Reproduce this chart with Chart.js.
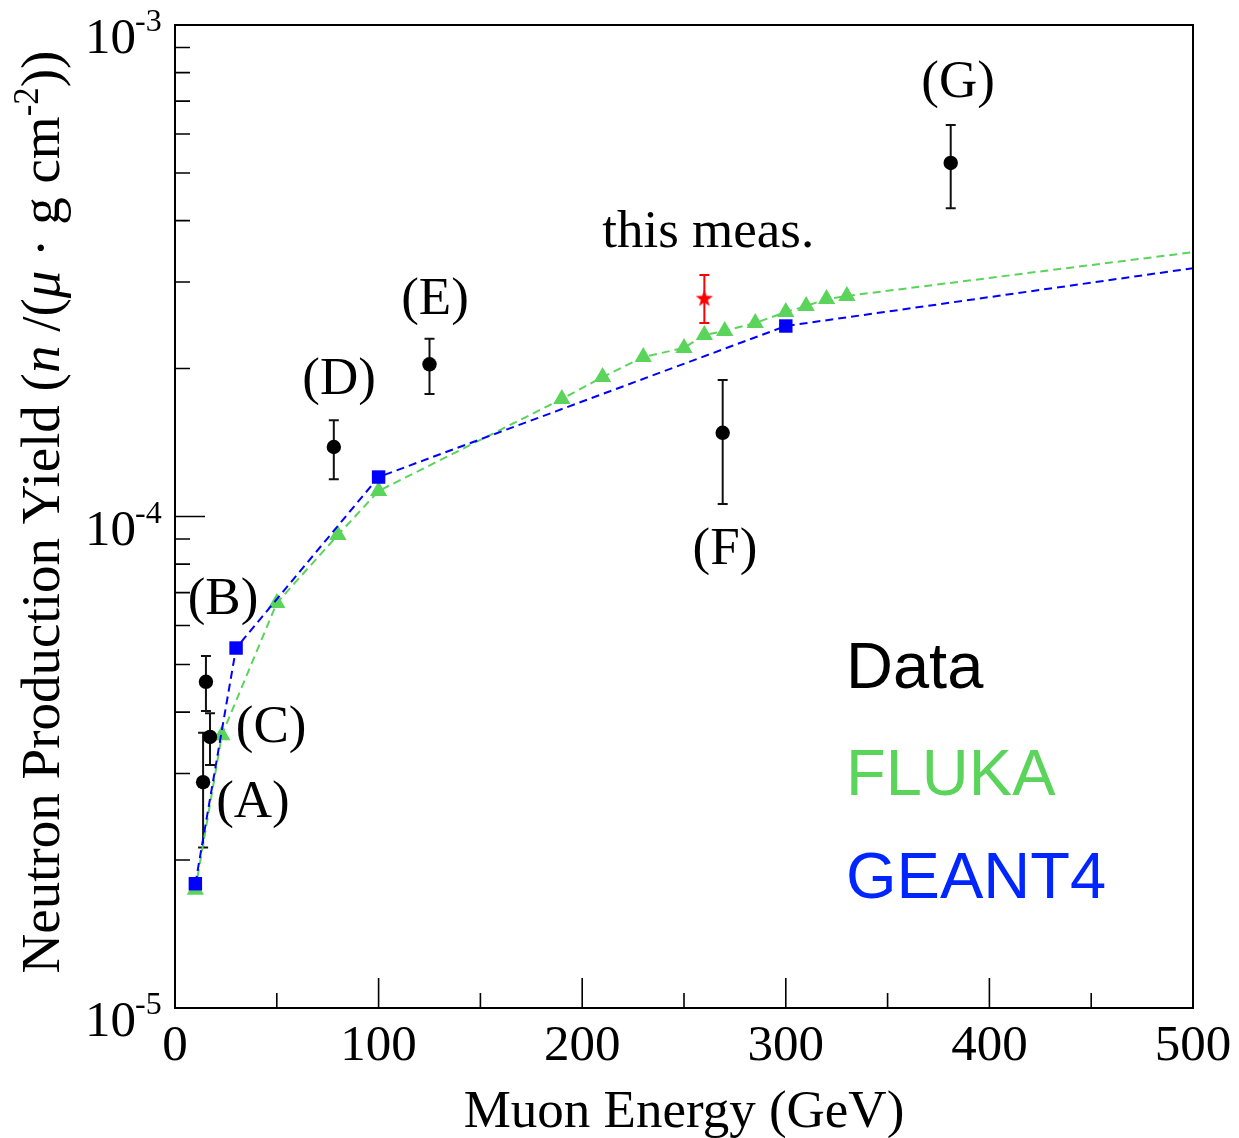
<!DOCTYPE html>
<html>
<head>
<meta charset="utf-8">
<script src="https://cdn.jsdelivr.net/npm/chart.js@4"></script>
<style>
  html, body { margin: 0; padding: 0; background: #fff; }
</style>
</head>
<body>
<canvas id="yieldChart" width="1239" height="1138"></canvas>
<script>
// measured data points (A)..(G)
const dataNames = ["(A)", "(B)", "(C)", "(D)", "(E)", "(F)", "(G)"];
const dataEnergy = [13.8, 15.2, 17.2, 78, 125, 269, 381];
const dataYield = [2.88e-5, 4.61e-5, 3.56e-5, 1.385e-4, 2.04e-4, 1.48e-4, 5.24e-4];
const dataErrLow = [2.12e-5, 4.02e-5, 3.12e-5, 1.19e-4, 1.775e-4, 1.06e-4, 4.24e-4];
const dataErrHigh = [3.63e-5, 5.20e-5, 3.98e-5, 1.57e-4, 2.30e-4, 1.895e-4, 6.26e-4];

// this measurement
const measEnergy = [260];
const measYield = [2.78e-4];
const measErrLow = [2.476e-4];
const measErrHigh = [3.10e-4];

// simulations
const flukaEnergy = [10, 23, 50, 80, 100, 190, 210, 230, 250, 260, 270, 285, 300, 310, 320, 330, 500];
const flukaYield = [1.74e-5, 3.59e-5, 6.67e-5, 9.17e-5, 1.127e-4, 1.734e-4, 1.922e-4, 2.111e-4, 2.203e-4,
                    2.34e-4, 2.385e-4, 2.476e-4, 2.606e-4, 2.68e-4, 2.77e-4, 2.81e-4, 3.45e-4];
const geantEnergy = [10, 30, 100, 300, 500];
const geantYield = [1.79e-5, 5.40e-5, 1.203e-4, 2.441e-4, 3.20e-4];

// axis ticks
const xMajorTicks = [0, 100, 200, 300, 400, 500];
const xMinorTicks = [50, 150, 250, 350, 450];
const yDecades = [-5, -4, -3];

// text labels, anchored in data units
const annotations = [
  { text: "(A)", x: 38.3, y: 2.61e-5 },
  { text: "(B)", x: 23.6, y: 6.76e-5 },
  { text: "(C)", x: 47.2, y: 3.71e-5 },
  { text: "(D)", x: 80.6, y: 1.895e-4 },
  { text: "(E)", x: 127.7, y: 2.757e-4 },
  { text: "(F)", x: 270.1, y: 8.55e-5 },
  { text: "(G)", x: 384.6, y: 7.62e-4 },
  { text: "this meas.", x: 261.9, y: 3.77e-4 }
];

const GREEN = "#5ad45a";
const BLUE = "#0000ff";
const SERIF = "'Liberation Serif', 'Times New Roman', serif";
const SANS = "'Liberation Sans', Arial, sans-serif";

function toPoints(xs, ys) {
  return xs.map((x, i) => ({ x: x, y: ys[i] }));
}

// red filled star marker
function makeStar() {
  const c = document.createElement("canvas");
  c.width = 20; c.height = 20;
  const g = c.getContext("2d");
  g.fillStyle = "#ff0000";
  g.beginPath();
  for (let i = 0; i < 10; i++) {
    const r = i % 2 === 0 ? 9 : 3.7;
    const a = -Math.PI / 2 + i * Math.PI / 5;
    const px = 10 + r * Math.cos(a), py = 10.5 + r * Math.sin(a);
    if (i === 0) g.moveTo(px, py); else g.lineTo(px, py);
  }
  g.closePath();
  g.fill();
  return c;
}

function drawErrors(chart, xs, lows, highs, color) {
  const ctx = chart.ctx;
  const xs_ = chart.scales.x, ys_ = chart.scales.y;
  ctx.save();
  ctx.strokeStyle = color;
  ctx.lineWidth = 2;
  xs.forEach((e, i) => {
    const px = xs_.getPixelForValue(e);
    const top = ys_.getPixelForValue(highs[i]);
    const bot = ys_.getPixelForValue(lows[i]);
    ctx.beginPath();
    ctx.moveTo(px, top); ctx.lineTo(px, bot);
    ctx.moveTo(px - 5, top); ctx.lineTo(px + 5, top);
    ctx.moveTo(px - 5, bot); ctx.lineTo(px + 5, bot);
    ctx.stroke();
  });
  ctx.restore();
}

const errorBars = {
  id: "errorBars",
  beforeDatasetsDraw(chart) {
    drawErrors(chart, dataEnergy, dataErrLow, dataErrHigh, "#111");
    drawErrors(chart, measEnergy, measErrLow, measErrHigh, "#ff0000");
  }
};

// draw a run of text pieces with different styles starting at x
function drawRuns(ctx, runs, x, y) {
  let cx = x;
  runs.forEach(r => {
    ctx.font = r.font;
    ctx.fillText(r.t, cx, y + (r.dy || 0));
    cx += ctx.measureText(r.t).width;
  });
}
function runsWidth(ctx, runs) {
  let w = 0;
  runs.forEach(r => { ctx.font = r.font; w += ctx.measureText(r.t).width; });
  return w;
}

const frame = {
  id: "frame",
  afterDraw(chart) {
    const ctx = chart.ctx;
    const a = chart.chartArea;
    const xs = chart.scales.x, ys = chart.scales.y;
    ctx.save();
    ctx.strokeStyle = "#000";
    ctx.lineWidth = 2;
    ctx.strokeRect(a.left, a.top, a.right - a.left, a.bottom - a.top);

    // inward ticks
    ctx.beginPath();
    xMajorTicks.forEach(v => {
      const px = xs.getPixelForValue(v);
      ctx.moveTo(px, a.bottom); ctx.lineTo(px, a.bottom - 30);
    });
    xMinorTicks.forEach(v => {
      const px = xs.getPixelForValue(v);
      ctx.moveTo(px, a.bottom); ctx.lineTo(px, a.bottom - 15);
    });
    yDecades.forEach(d => {
      const py = ys.getPixelForValue(Math.pow(10, d));
      ctx.moveTo(a.left, py); ctx.lineTo(a.left + 30, py);
      if (d < -3) {
        for (let m = 2; m <= 9; m++) {
          const q = ys.getPixelForValue(m * Math.pow(10, d));
          ctx.moveTo(a.left, q); ctx.lineTo(a.left + 15, q);
        }
      }
    });
    ctx.lineWidth = 1.6;
    ctx.stroke();

    ctx.fillStyle = "#000";
    // x tick labels
    ctx.font = "51px " + SERIF;
    ctx.textAlign = "center";
    ctx.textBaseline = "alphabetic";
    xMajorTicks.forEach(v => {
      ctx.fillText(String(v), xs.getPixelForValue(v), 1060);
    });
    // y tick labels 10^d
    yDecades.forEach(d => {
      const py = ys.getPixelForValue(Math.pow(10, d));
      ctx.textAlign = "right";
      ctx.font = "51px " + SERIF;
      ctx.fillText("10", 136, py + 28);
      ctx.textAlign = "left";
      ctx.font = "32px " + SERIF;
      ctx.fillText(String(d), 135, py + 6);
    });

    // x title
    ctx.textAlign = "center";
    ctx.font = "53px " + SERIF;
    ctx.fillText("Muon Energy (GeV)", 684, 1127);

    // y title, rotated
    const reg = "55px " + SERIF;
    const ita = "italic 55px " + SERIF;
    const sup = "35px " + SERIF;
    const runs = [
      { t: "Neutron Production Yield (", font: reg },
      { t: "n", font: ita },
      { t: " /(", font: reg },
      { t: "\u03bc", font: ita },
      { t: " \u00b7 g cm", font: reg },
      { t: "-2", font: sup, dy: -21 },
      { t: "))", font: reg }
    ];
    ctx.save();
    ctx.translate(59, 512);
    ctx.rotate(-Math.PI / 2);
    ctx.textAlign = "left";
    drawRuns(ctx, runs, -runsWidth(ctx, runs) / 2, 0);
    ctx.restore();

    // point annotations
    ctx.font = "53px " + SERIF;
    ctx.textAlign = "center";
    ctx.textBaseline = "middle";
    annotations.forEach(n => {
      ctx.fillText(n.text, xs.getPixelForValue(n.x), ys.getPixelForValue(n.y));
    });

    // legend text
    ctx.textAlign = "left";
    ctx.textBaseline = "alphabetic";
    ctx.font = "65px " + SANS;
    ctx.fillStyle = "#000";
    ctx.fillText("Data", 846, 688);
    ctx.fillStyle = GREEN;
    ctx.fillText("FLUKA", 846, 795);
    ctx.fillStyle = "#0026ff";
    ctx.fillText("GEANT4", 846, 898);
    ctx.restore();
  }
};

const starImg = makeStar();
const endHidden = (r) => (c) => (c.raw && c.raw.x >= 500 ? 0 : r);

new Chart(document.getElementById("yieldChart"), {
  type: "scatter",
  data: {
    datasets: [
      {
        label: "Data",
        data: toPoints(dataEnergy, dataYield),
        pointStyle: "circle",
        pointRadius: 7.2,
        pointBackgroundColor: "#000",
        pointBorderColor: "#000",
        pointBorderWidth: 0,
        showLine: false
      },
      {
        label: "this meas.",
        data: toPoints(measEnergy, measYield),
        pointStyle: starImg,
        pointRadius: 9,
        showLine: false
      },
      {
        label: "GEANT4",
        data: toPoints(geantEnergy, geantYield),
        showLine: true,
        borderColor: BLUE,
        borderWidth: 2,
        borderDash: [8, 5],
        tension: 0,
        pointStyle: "rect",
        pointRadius: endHidden(9.5),
        pointBackgroundColor: BLUE,
        pointBorderColor: BLUE,
        pointBorderWidth: 0
      },
      {
        label: "FLUKA",
        data: toPoints(flukaEnergy, flukaYield),
        showLine: true,
        borderColor: GREEN,
        borderWidth: 2,
        borderDash: [8, 5],
        tension: 0,
        pointStyle: "triangle",
        pointRadius: endHidden(10),
        pointBackgroundColor: GREEN,
        pointBorderColor: GREEN,
        pointBorderWidth: 0
      }
    ]
  },
  options: {
    responsive: false,
    animation: false,
    devicePixelRatio: 1,
    layout: { padding: { left: 175, right: 46, top: 25, bottom: 130 } },
    plugins: { legend: { display: false }, tooltip: { enabled: false } },
    scales: {
      x: { type: "linear", min: 0, max: 500, display: false },
      y: { type: "logarithmic", min: 1e-5, max: 1e-3, display: false }
    }
  },
  plugins: [errorBars, frame]
});
</script>
</body>
</html>
